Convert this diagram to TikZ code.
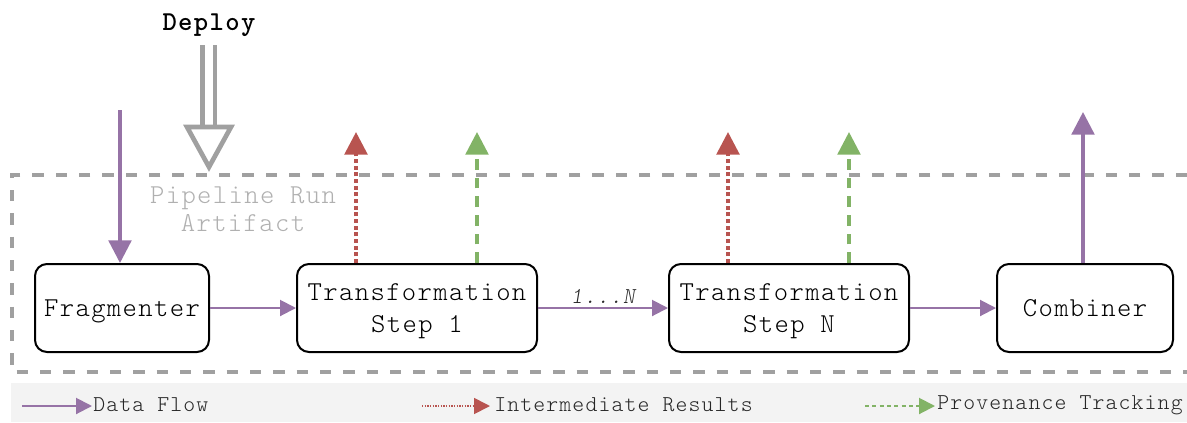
\documentclass[tikz,border=0pt]{standalone}
\usepackage{fontspec}
\setmonofont{lmmonolt10-regular.otf}[
  BoldFont=lmmonolt10-bold.otf,
  ItalicFont=lmmonolt10-oblique.otf,
  LetterSpace=5]
\usetikzlibrary{arrows.meta}
\definecolor{flow}{HTML}{9673A6}
\definecolor{inter}{HTML}{B85450}
\definecolor{prov}{HTML}{82B366}
\definecolor{framegray}{HTML}{A0A0A0}
\definecolor{artifact}{HTML}{B0B0B0}
\definecolor{legendbg}{HTML}{F3F3F3}

\begin{document}
\begin{tikzpicture}[x=0.75pt,y=-0.75pt,
  stage/.style={draw=black, line width=1.5pt, rounded corners=9pt,
    minimum height=66pt, align=center, inner sep=0pt,
    font=\ttfamily\fontsize{20.5}{24}\selectfont,
    text height=12.5pt, text depth=0pt},
  twoline/.style={text height=36.5pt},
  bigtip/.style={-{Triangle[length=17pt,width=17pt]}},
  smalltip/.style={-{Triangle[length=12pt,width=12pt]}},
  flowthin/.style={draw=flow, line width=1.5pt, smalltip, flow},
  flowthick/.style={draw=flow, line width=2.5pt, bigtip, flow},
  interup/.style={draw=inter, line width=2.8pt, dash pattern=on 3pt off 2pt, bigtip, inter},
  provup/.style={draw=prov, line width=2.6pt, dash pattern=on 8pt off 6pt, bigtip, prov},
  framebox/.style={draw=framegray, line width=3pt, dash pattern=on 8.5pt off 9pt},
  legendtext/.style={anchor=west, inner sep=0pt, font=\ttfamily\fontsize{17}{18}\selectfont, text=black!85},
  deployline/.style={draw=framegray, line width=3.5pt},
]
\useasboundingbox (0,0) rectangle (1187,422);

% pipeline run artifact frame (open to the right)
\draw[framebox] (1187,175) -- (12,175) -- (12,372) -- (1187,372);
\node[text=artifact, align=center, inner sep=0pt,
  font=\ttfamily\fontsize{20.5}{21}\selectfont] (artifact) at (243,209) {Pipeline Run\\Artifact};

% legend strip
\fill[legendbg] (11,383) rectangle (1187,422);

% stages
\node[stage, minimum width=130.5pt] (frag) at (122,308) {Fragmenter};
\node[stage, twoline, minimum width=180pt] (t1) at (417,308) {Transformation\\Step 1};
\node[stage, twoline, minimum width=180pt] (tn) at (789,308) {Transformation\\Step N};
\node[stage, minimum width=132pt] (comb) at (1085,308) {Combiner};

% data flow between stages
\draw[flowthin] (frag) -- (t1);
\draw[flowthin] (t1) -- node[above, inner sep=3pt, text=black!85,
  font=\ttfamily\itshape\fontsize{17}{18}\selectfont] (rep) {1...N} (tn);
\draw[flowthin] (tn) -- (comb);

% input and output
\coordinate (in) at (120,110);
\coordinate (out) at (1083,112);
\draw[flowthick] (in) -- (in |- frag.north);
\draw[flowthick] (out |- comb.north) -- (out);

% intermediate results and provenance leaving each step
\coordinate (r1) at (356,132);
\coordinate (p1) at (477,132);
\coordinate (rn) at (728,132);
\coordinate (pn) at (849,132);
\draw[interup] (r1 |- t1.north) -- (r1);
\draw[provup] (p1 |- t1.north) -- (p1);
\draw[interup] (rn |- tn.north) -- (rn);
\draw[provup] (pn |- tn.north) -- (pn);

% deploy arrow
\node[inner sep=0pt, font=\ttfamily\bfseries\fontsize{20.5}{22}\selectfont] (deploy) at (209,25) {Deploy};
\draw[deployline] (202.5,45) -- (202.5,128);
\draw[deployline] (215,45) -- (215,128);
\draw[deployline, fill=white, miter limit=10] (187,127) -- (231,127) -- (209,167) -- cycle;

% legend entries
\coordinate (l1a) at (22,406);  \coordinate (l1b) at (92,406);
\coordinate (l2a) at (422,406); \coordinate (l2b) at (490,406);
\coordinate (l3a) at (865,406); \coordinate (l3b) at (935,406);
\draw[draw=flow, line width=1.5pt, smalltip, flow] (l1a) -- (l1b);
\node[legendtext] (lg1) at (93,405) {Data Flow};
\draw[draw=inter, line width=1.3pt, dash pattern=on 1pt off 1pt, smalltip, inter] (l2a) -- (l2b);
\node[legendtext] (lg2) at (494,405) {Intermediate Results};
\draw[draw=prov, line width=1.5pt, dash pattern=on 3pt off 2.5pt, smalltip, prov] (l3a) -- (l3b);
\node[legendtext] (lg3) at (937,405) {Provenance Tracking};
\end{tikzpicture}
\end{document}
